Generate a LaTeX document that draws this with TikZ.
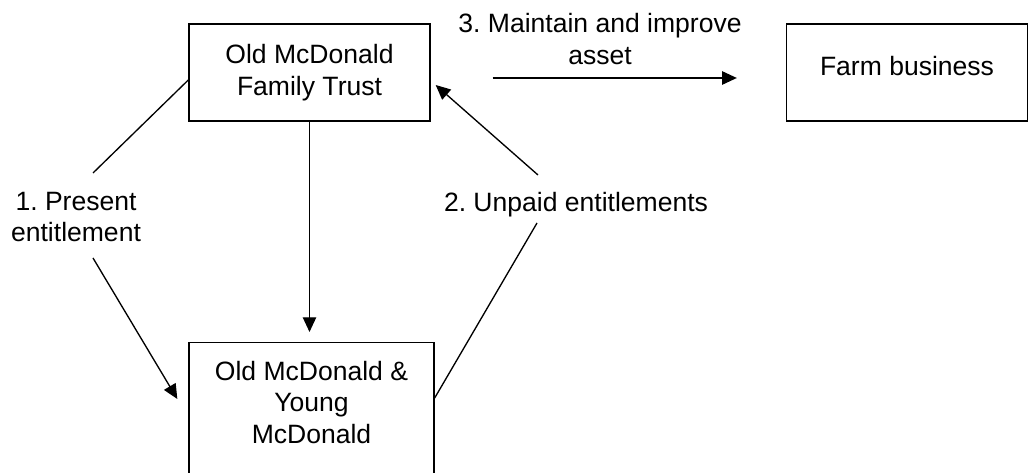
\documentclass[tikz,border=0pt]{standalone}
\usepackage{fontspec}
\setmainfont{Liberation Sans}
\usetikzlibrary{arrows.meta}
\frenchspacing

\begin{document}
\begin{tikzpicture}[
    x=0.75pt, y=-0.75pt,
    font=\fontsize{19.9pt}{23.5pt}\selectfont,
    box/.style={draw, line width=1pt, align=center, minimum width=180.75pt, minimum height=72.75pt},
    lbl/.style={align=center},
    link/.style={line width=1pt},
    arr/.style={line width=1pt, -{Triangle[length=11pt,width=10pt]}}
]

\useasboundingbox (0,0) rectangle (1030,473);

% =========================
% Boxes
% =========================
\node[box] (trust) at (309.5,72.5) {Old McDonald\\Family Trust};
\node[box, text depth=10.5pt] (farm) at (907,72.5) {Farm business};
% bottom box runs off the page
\node[box, anchor=north, minimum width=183.75pt, minimum height=0pt,
      inner ysep=13.9pt, text depth=110pt] (pair) at (311.5,342)
      {Old McDonald \&\\Young\\McDonald};

% =========================
% Labels
% =========================
\node[lbl] (present) at (76,217) {1. Present\\entitlement};
\node[lbl] (unpaid) at (576,205) {2. Unpaid entitlements};
\node[lbl] (asset) at (600,39) {3. Maintain and improve\\asset};

% line ends beside the labels
\coordinate (presentTop) at (93,173);
\coordinate (presentBot) at (93,258);
\coordinate (unpaidTop) at (538,175);
\coordinate (unpaidBot) at (537,223);

% =========================
% Connectors
% =========================
% 1. present entitlement
\draw[link] ([yshift=-5.6pt]trust.west) -- (presentTop);
\draw[arr] (presentBot) -- ([shift={(-11,57)}]pair.north west);

% 2. unpaid entitlements
\draw[link] ([shift={(0,56)}]pair.north east) -- (unpaidBot);
\draw[arr] (unpaidTop) -- ([shift={(5,12.5)}]trust.east);

% trust to beneficiaries
\draw[arr, shorten >=7.5pt] (trust.south) -- (trust.south |- pair.north);

% 3. maintain and improve asset
\draw[arr] ([shift={(62,5.5)}]trust.east) -- ([shift={(-49,5.5)}]farm.west);

\end{tikzpicture}
\end{document}
